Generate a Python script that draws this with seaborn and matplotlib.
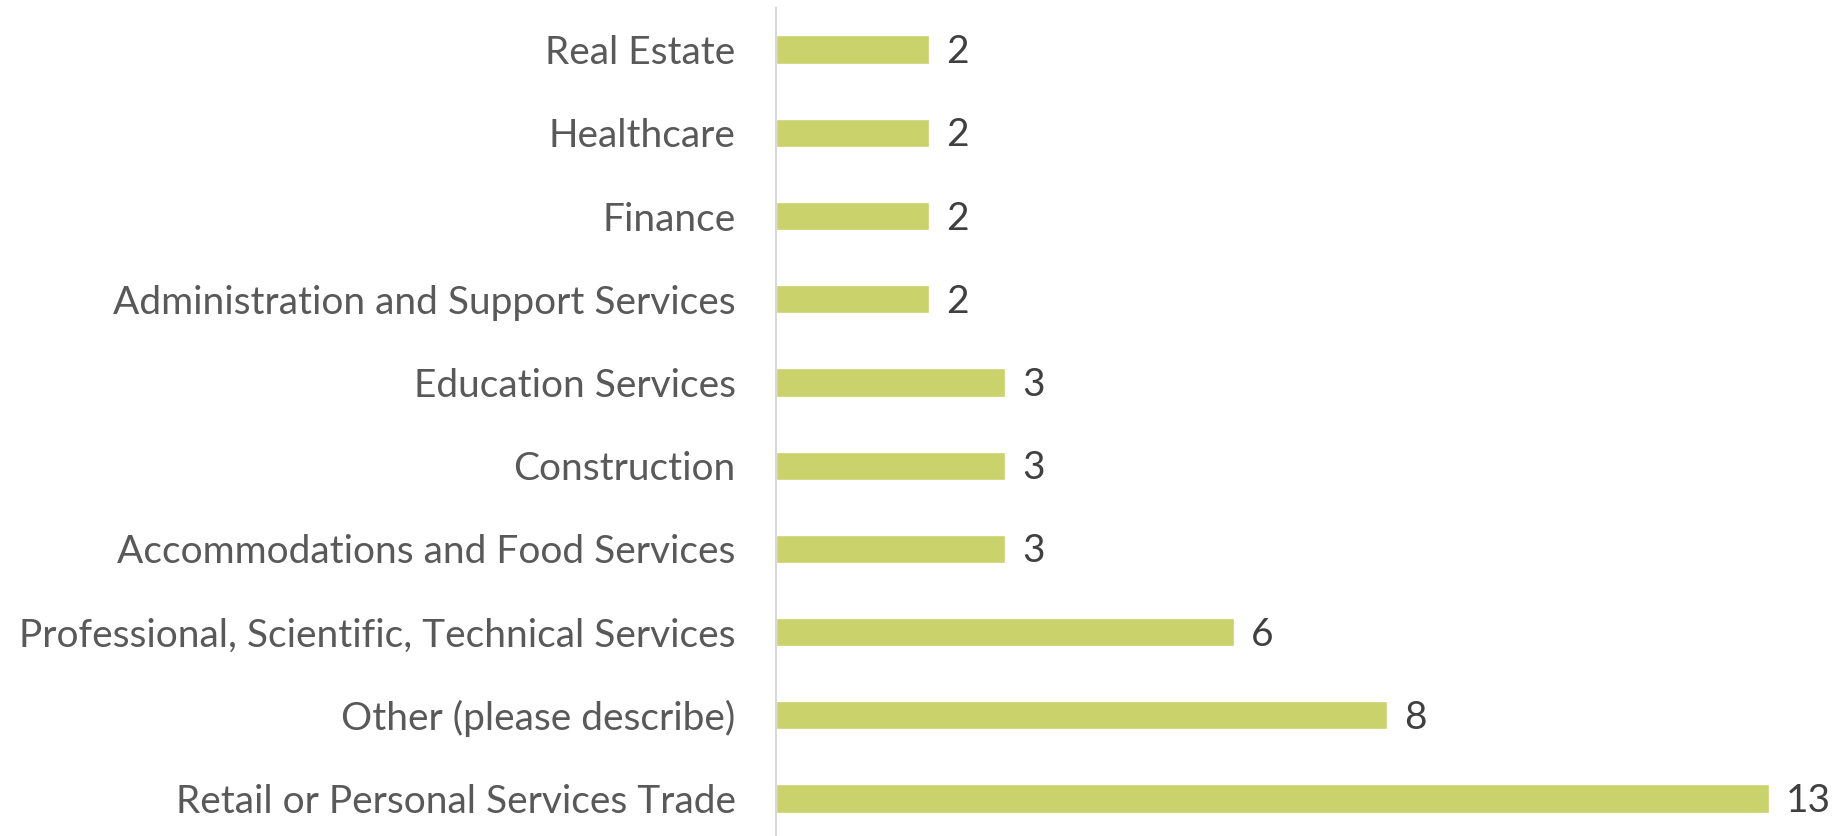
import matplotlib
matplotlib.use("Agg")
import matplotlib.pyplot as plt
import seaborn as sns
import pandas as pd

categories = [
    "Real Estate",
    "Healthcare",
    "Finance",
    "Administration and Support Services",
    "Education Services",
    "Construction",
    "Accommodations and Food Services",
    "Professional, Scientific, Technical Services",
    "Other (please describe)",
    "Retail or Personal Services Trade",
]
counts = [2, 2, 2, 2, 3, 3, 3, 6, 8, 13]

df = pd.DataFrame({"Industry": categories, "Count": counts})

sns.set_theme(style="white")
plt.rcParams["font.family"] = ["Lato", "DejaVu Sans"]

fig = plt.figure(figsize=(18.42, 8.36), dpi=100)
ax = fig.add_axes([776 / 1842, 0, 1 - 776 / 1842, 828 / 836])

sns.barplot(data=df, y="Industry", x="Count", order=categories,
            color="#c9d26b", saturation=1, width=0.34, ax=ax)

ax.set_xlim(0, 13.95)
ax.set_ylim(9.45, -0.5)
ax.set_xlabel("")
ax.set_ylabel("")
ax.set_xticks([])
for s in ["top", "right", "bottom"]:
    ax.spines[s].set_visible(False)
ax.spines["left"].set_color("#d9d9d9")
ax.spines["left"].set_linewidth(1.5)
ax.tick_params(axis="y", length=0, pad=29, labelsize=28, labelcolor="#595959")

for i, v in enumerate(counts):
    ax.text(v + 0.22, i + 0.03, str(v), va="center", ha="left",
            fontsize=28, color="#404040")

fig.savefig("out.png", dpi=100)
